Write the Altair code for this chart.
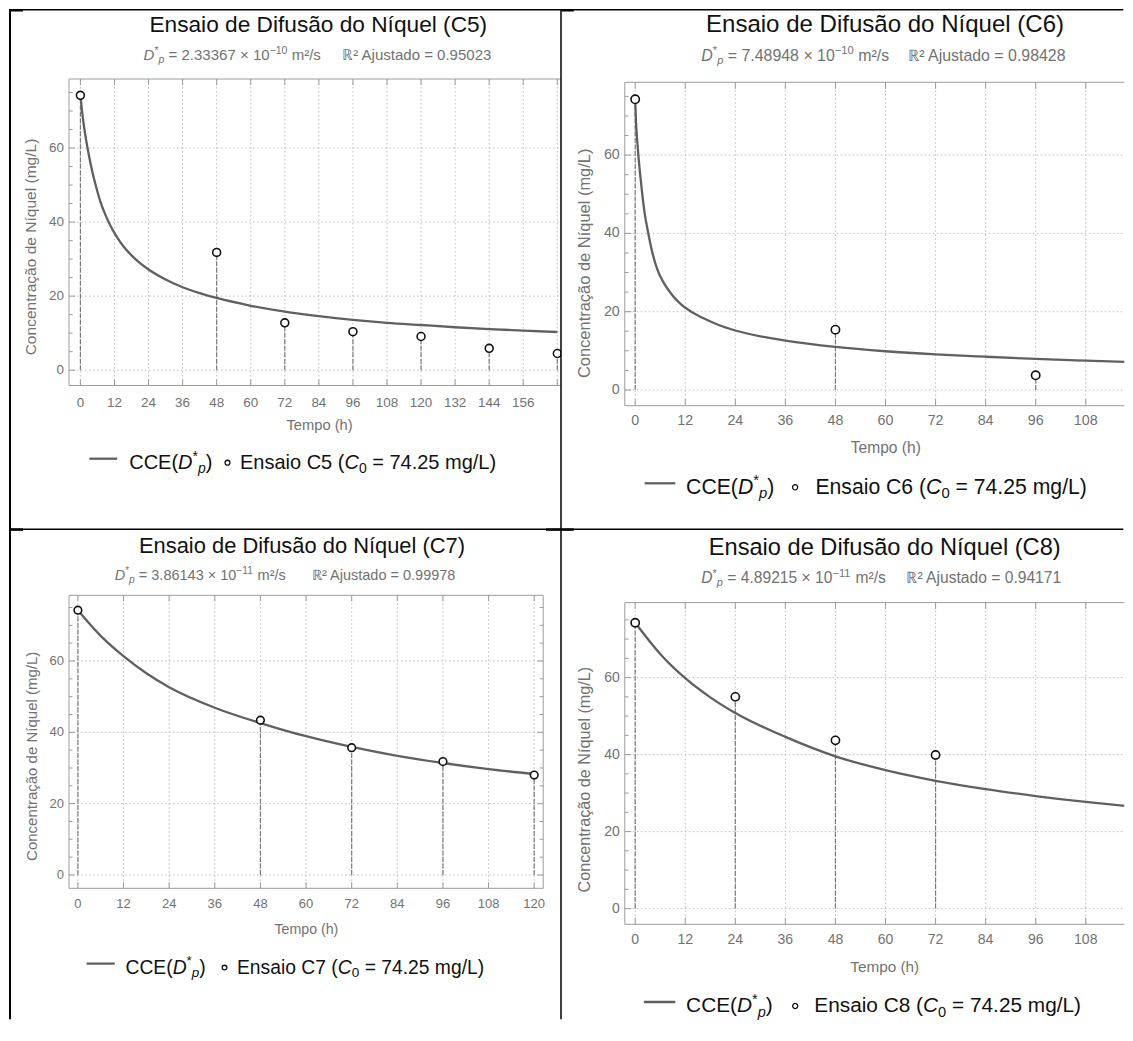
import altair as alt
import pandas as pd

FONT = "Liberation Sans"
GRID = "#bdbdbd"
FRAME = "#9c9c9c"
LAB = "#727272"
CURVE = "#606060"
STEM = "#7a7a7a"
TXT = "#111111"

# ---------------- data ----------------
c5_t = [0, 48, 72, 96, 120, 144, 168]
c5_c = [74.25, 31.8, 12.8, 10.4, 9.1, 5.9, 4.5]
c5_curve_t = [0, 0.5, 1, 2, 3, 4, 5.3, 7, 9, 11, 13, 15, 18, 21, 24, 30, 36, 42, 48, 60, 72, 84, 96, 108, 120, 132, 144, 156, 168]
c5_curve_c = [74.25, 70.5, 67.3, 62.2, 58.0, 54.3, 50.2, 45.6, 41.6, 38.4, 35.8, 33.6, 31.0, 28.9, 27.2, 24.5, 22.4, 20.8, 19.5, 17.4, 15.8, 14.6, 13.6, 12.8, 12.2, 11.6, 11.1, 10.7, 10.3]

c6_t = [0, 48, 96, 120]
c6_c = [74.25, 15.4, 3.75, 3.75]
c6_curve_t = [0, 0.2, 0.5, 0.8, 1.2, 1.7, 2.3, 3, 4, 5.3, 7, 9, 11, 13, 16, 20, 24, 30, 36, 48, 60, 72, 84, 96, 108, 120]
c6_curve_c = [74.25, 68.5, 63.5, 59.5, 55.0, 50.0, 45.0, 40.8, 35.6, 30.8, 27.1, 24.1, 21.9, 20.3, 18.5, 16.6, 15.2, 13.7, 12.6, 11.0, 9.9, 9.1, 8.5, 7.95, 7.5, 7.1]

c7_t = [0, 48, 72, 96, 120]
c7_c = [74.25, 43.4, 35.7, 31.8, 28.0]
c7_curve_t = [0, 6, 12, 18, 24, 36, 48, 60, 72, 84, 96, 108, 120]
c7_curve_c = [74.25, 67.05, 61.35, 56.55, 52.65, 46.9, 42.6, 38.9, 35.9, 33.4, 31.4, 29.7, 28.3]

c8_t = [0, 24, 48, 72, 120]
c8_c = [74.25, 55.0, 43.7, 39.9, 7.9]
c8_curve_t = [0, 6, 12, 18, 24, 36, 48, 60, 72, 84, 96, 108, 120]
c8_curve_c = [74.25, 66.15, 59.85, 54.87, 50.8, 44.6, 39.56, 35.96, 33.2, 31.04, 29.24, 27.7, 26.4]

titles = ["Ensaio de Difusão do Níquel (C5)", "Ensaio de Difusão do Níquel (C6)",
          "Ensaio de Difusão do Níquel (C7)", "Ensaio de Difusão do Níquel (C8)"]
dp_mantissa = ["2.33367", "7.48948", "3.86143", "4.89215"]
dp_exponent = ["−10", "−10", "−11", "−11"]
r2_texts = ["ℝ² Ajustado = 0.95023", "ℝ² Ajustado = 0.98428",
            "ℝ² Ajustado = 0.99978", "ℝ² Ajustado = 0.94171"]
ensaio_names = ["C5", "C6", "C7", "C8"]
c0_value = "74.25 mg/L"
x_title = "Tempo (h)"
y_title = "Concentração de Níquel (mg/L)"
y_ticks = [0, 20, 40, 60]
y_tick_labels = ["0", "20", "40", "60"]
y_minor = [5, 10, 15, 25, 30, 35, 45, 50, 55, 65, 70, 75]
x_ticks_c5 = [0, 12, 24, 36, 48, 60, 72, 84, 96, 108, 120, 132, 144, 156, 168]
x_labels_c5 = ["0", "12", "24", "36", "48", "60", "72", "84", "96", "108", "120", "132", "144", "156"]
x_ticks_c7 = [0, 12, 24, 36, 48, 60, 72, 84, 96, 108, 120]
x_labels_c7 = ["0", "12", "24", "36", "48", "60", "72", "84", "96", "108", "120"]
x_ticks_c68 = [0, 12, 24, 36, 48, 60, 72, 84, 96, 108]
x_labels_c68 = ["0", "12", "24", "36", "48", "60", "72", "84", "96", "108"]

ONE = pd.DataFrame({"k": [0]})

# Arial / Liberation Sans advance widths (1/1000 em) for laying out rich text pieces
AW = {' ': 278, '(': 333, ')': 333, '*': 389, '.': 278, '/': 278, '=': 584, '×': 584,
      '²': 333, '−': 584, 'ℝ': 722, 'A': 667, 'C': 722, 'D': 722, 'E': 667, 'L': 556,
      'a': 556, 'c': 500, 'd': 556, 'e': 556, 'g': 556, 'i': 222, 'j': 222, 'l': 222,
      'm': 833, 'n': 556, 'o': 556, 'p': 556, 'r': 333, 's': 500, 't': 278, 'u': 556}


def tw(s):
    return sum(AW.get(ch, 556) for ch in s) / 1000.0


def vline(x, y1, y2, w, color="black"):
    return alt.Chart(ONE).mark_rule(color=color, strokeWidth=w).encode(
        x=alt.value(x), y=alt.value(y1), y2=alt.value(y2))


def hline(y, x1, x2, w, color="black"):
    return alt.Chart(ONE).mark_rule(color=color, strokeWidth=w).encode(
        y=alt.value(y), x=alt.value(x1), x2=alt.value(x2))


def txt(x, y, s, size, color, align="left", baseline="alphabetic", angle=0, style="normal"):
    return alt.Chart(ONE).mark_text(align=align, baseline=baseline, fontSize=size, angle=angle,
                                    color=color, font=FONT, fontStyle=style).encode(
        x=alt.value(x), y=alt.value(y), text=alt.value(s))


def rich(x, y, pieces, F, color):
    """pieces: (text, kind); kind in n, i, sup, sub, subi. Leading/trailing blanks are
    turned into cursor advances (SVG would collapse them)."""
    out, cur = [], x
    for text, kind in pieces:
        size = F if kind in ("n", "i") else 0.7 * F
        dy = {"n": 0, "i": 0, "sup": -0.42 * F, "sub": 0.2 * F, "subi": 0.2 * F}[kind]
        style = "italic" if kind in ("i", "subi") else "normal"
        lead = len(text) - len(text.lstrip(" "))
        trail = len(text) - len(text.rstrip(" "))
        core = text.strip(" ")
        cur += lead * 0.278 * size
        out.append(txt(cur, y + dy, core, size, color, style=style))
        cur += tw(core) * size + trail * 0.278 * size
    return out


def panel(i, pts_t, pts_c, cur_t, cur_c, xticks, xlabels, L):
    W, H, s, o = L["w"], L["h"], L["s"], L["yoff"]
    y0, y1 = L["ydom"]
    ytop = y1 + o * (y1 - y0) / H          # plot area starts o px above the frame
    xs = alt.Scale(domain=L["xdom"], nice=False, zero=False)
    ys = alt.Scale(domain=[y0, ytop], nice=False, zero=False)
    X = lambda f: alt.X(f, scale=xs, axis=None)
    Y = lambda f: alt.Y(f, scale=ys, axis=None)
    curve_df = pd.DataFrame({"t": cur_t, "c": cur_c})
    pts_df = pd.DataFrame({"t": pts_t, "c": pts_c, "z": [0] * len(pts_t)})
    xt_df = pd.DataFrame({"t": xticks})
    xl_df = pd.DataFrame({"t": xticks[:len(xlabels)], "lab": xlabels})
    ymaj_df = pd.DataFrame({"c": y_ticks, "lab": y_tick_labels})
    ymin_df = pd.DataFrame({"c": y_minor})
    tick = lambda: alt.Chart(xt_df).mark_rule(color=FRAME, strokeWidth=1)
    B = H + o  # frame bottom (px)

    layers = [
        alt.Chart(xt_df).mark_rule(color=GRID, strokeWidth=1, strokeDash=[1.5, 2.5]).encode(
            x=X("t:Q"), y=alt.value(o), y2=alt.value(B)),
        alt.Chart(ymaj_df).mark_rule(color=GRID, strokeWidth=1, strokeDash=[1.5, 2.5]).encode(
            y=Y("c:Q"), x=alt.value(0), x2=alt.value(W)),
        alt.Chart(pts_df).mark_rule(color=STEM, strokeWidth=1.2, strokeDash=[5, 1.5], clip=True).encode(
            x=X("t:Q"), y=Y("z:Q"), y2="c:Q"),
        alt.Chart(curve_df).mark_line(color=CURVE, strokeWidth=2.3, interpolate="monotone",
                                      clip=True).encode(x=X("t:Q"), y=Y("c:Q")),
        alt.Chart(pts_df).mark_point(shape="circle", filled=True, fill="white", stroke=TXT,
                                     strokeWidth=1.6, size=58 * s * s, opacity=1, clip=True).encode(
            x=X("t:Q"), y=Y("c:Q")),
        vline(0, o, B, 1, FRAME),
        hline(B, 0, W, 1, FRAME),
        hline(o, 0, W, 1, FRAME),
        tick().encode(x=X("t:Q"), y=alt.value(B), y2=alt.value(B - 6 * s)),
        tick().encode(x=X("t:Q"), y=alt.value(o), y2=alt.value(o + 6 * s)),
        alt.Chart(ymaj_df).mark_rule(color=FRAME, strokeWidth=1).encode(
            y=Y("c:Q"), x=alt.value(0), x2=alt.value(6 * s)),
        alt.Chart(ymin_df).mark_rule(color=FRAME, strokeWidth=1).encode(
            y=Y("c:Q"), x=alt.value(0), x2=alt.value(3.5 * s)),
        alt.Chart(xl_df).mark_text(fontSize=13 * s, color=LAB, font=FONT, align="center",
                                   baseline="middle").encode(
            x=X("t:Q"), y=alt.value(B + L["xlo"]), text="lab:N"),
        alt.Chart(ymaj_df).mark_text(fontSize=13 * s, color=LAB, font=FONT, align="right",
                                     baseline="middle").encode(
            y=Y("c:Q"), x=alt.value(-5), text="lab:N"),
        txt(L["xtx"], B + L["xty"], x_title, 14.2 * s, LAB, align="center", baseline="middle"),
        txt(L["ytx"], o + L["yty"], y_title, 15 * s, LAB, align="center", baseline="middle", angle=270),
    ]
    if L.get("right_frame"):
        layers += [
            vline(W, o, B, 1, FRAME),
            alt.Chart(ymaj_df).mark_rule(color=FRAME, strokeWidth=1).encode(
                y=Y("c:Q"), x=alt.value(W), x2=alt.value(W - 6 * s)),
            alt.Chart(ymin_df).mark_rule(color=FRAME, strokeWidth=1).encode(
                y=Y("c:Q"), x=alt.value(W), x2=alt.value(W - 3.5 * s)),
        ]
    # title
    tx, ty = L["title"]
    layers.append(txt(tx, o + ty, titles[i], 21.9 * s, TXT, align="center"))
    # subtitle (rich text)
    sl, sr, sy = L["sub"]
    FS = 14.5 * s
    layers += rich(sl, o + sy, [("D", "i"), ("*", "sup"), ("p", "subi"),
                                (" = " + dp_mantissa[i] + " × 10", "n"),
                                (dp_exponent[i], "sup"), (" m²/s", "n")], FS, LAB)
    layers.append(txt(sr, o + sy, r2_texts[i], FS, LAB))
    # legend
    ly, lx1, lx2, t1, cx, t2 = L["legend"]
    ly = ly + o
    FL = 19.3 * s
    base = ly + 3 + 0.36 * FL
    layers.append(hline(ly, lx1, lx2, 2.3, CURVE))
    layers += rich(t1, base, [("CCE(", "n"), ("D", "i"), ("*", "sup"), ("p", "subi"), (")", "n")], FL, TXT)
    layers.append(alt.Chart(ONE).mark_point(shape="circle", filled=True, fill="white", stroke=TXT,
                                            strokeWidth=1.3, size=22 * s * s, opacity=1).encode(
        x=alt.value(cx), y=alt.value(ly + 4)))
    layers += rich(t2, base, [("Ensaio " + ensaio_names[i] + " (", "n"), ("C", "i"), ("0", "sub"),
                              (" = " + c0_value + ")", "n")], FL, TXT)
    # table borders (plot-area pixel coordinates)
    for kind, a, b, c, w in L["borders"]:
        layers.append(vline(a, b, c, w) if kind == "v" else hline(a, b, c, w))
    return alt.layer(*layers).properties(width=W, height=H + o)


L5 = dict(w=492, h=306.5, yoff=0, s=1.036, xdom=[-4.02, 169.3], ydom=[-4.14, 78.65],
          xlo=17, xtx=250.6, xty=40, ytx=-38.4, yty=168,
          title=(249.3, -46.7), sub=(74.6, 273.2, -19),
          legend=(379.7, 20.4, 48.2, 60.2, 158.5, 171),
          borders=[("v", -59, -70, 451.05, 2), ("h", -69.25, -60, 492.75, 1.5),
                   ("v", 492, -70, 451.05, 1.5), ("h", 450.3, -60, 492.75, 1.5),
                   ("h", -68.75, -58.5, -46, 2.5), ("h", 450.6, -58.5, -46, 2.5),
                   ("h", 450.6, 477, 492.75, 2.5)])
L6 = dict(w=499.5, h=323.4, yoff=3.3, s=1.098, xdom=[-2.49, 117.24], ydom=[-4.01, 78.6],
          xlo=15, xtx=261, xty=42.3, ytx=-39.8, yty=181,
          title=(260.2, -50), sub=(76.5, 283.4, -21.6),
          legend=(401, 19.8, 50.5, 61.3, 170.3, 190.6),
          borders=[("h", -69.25, -63.05, 498.5, 1.5), ("h", 450.3, -63.05, 498.5, 1.5),
                   ("h", -68.75, -63.05, -51, 2.5), ("h", 450.6, -63.05, -51, 2.5)])
L7 = dict(w=474.2, h=293, yoff=0, s=1.0, xdom=[-2.34, 122.37], ydom=[-3.73, 78.41],
          xlo=16, xtx=237.4, xty=41.7, ytx=-37.3, yty=161, right_frame=True,
          title=(233, -42.7), sub=(45.7, 243, -15.3),
          legend=(368.3, 17.6, 45.7, 56.5, 155.5, 168),
          borders=[("v", -59, -66.4, 424, 2), ("v", 492, -66.4, 424, 1.5)])
L8 = dict(w=499.5, h=321.7, yoff=7.3, s=1.079, xdom=[-2.49, 117.24], ydom=[-4.08, 79.48],
          xlo=15.7, xtx=259.9, xty=42.3, ytx=-39.8, yty=177,
          title=(259.9, -47.6), sub=(76.5, 281.6, -19.3),
          legend=(399.4, 19.1, 50.5, 61.3, 170.4, 189.5),
          borders=[])

p5 = panel(0, c5_t, c5_c, c5_curve_t, c5_curve_c, x_ticks_c5, x_labels_c5, L5)
p6 = panel(1, c6_t, c6_c, c6_curve_t, c6_curve_c, x_ticks_c68, x_labels_c68, L6)
p7 = panel(2, c7_t, c7_c, c7_curve_t, c7_curve_c, x_ticks_c7, x_labels_c7, L7)
p8 = panel(3, c8_t, c8_c, c8_curve_t, c8_curve_c, x_ticks_c68, x_labels_c68, L8)

chart = alt.concat(
    p5, p6, p7, p8, columns=2,
    spacing={"row": 189.3, "column": 63.8},
    bounds="flush",
).properties(
    padding={"left": 0, "top": 0, "right": 0, "bottom": 0}
).configure(font=FONT, view=alt.ViewConfig(stroke=None))

chart.save("out.html", embed_options={"renderer": "svg", "actions": False})
